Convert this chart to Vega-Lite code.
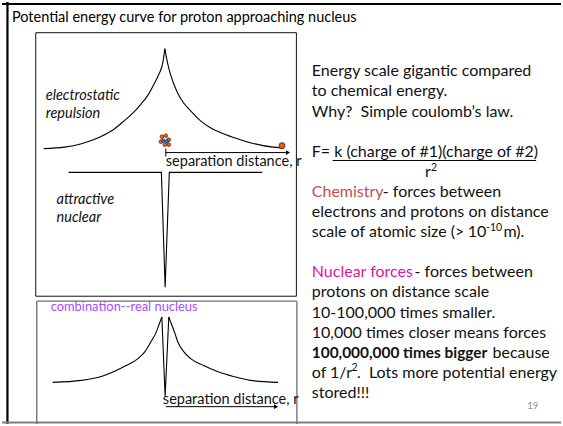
{
  "$schema": "https://vega.github.io/schema/vega-lite/v6.json",
  "width": 563,
  "height": 426,
  "padding": 0,
  "autosize": {"type": "fit", "contains": "padding"},
  "background": "white",
  "config": {"view": {"stroke": null}},
  "datasets": {
    "rules": [
      {"k": "slide", "x": 0, "y": 2, "x2": 563, "y2": 2},
      {"k": "slide", "x": 5.5, "y": 0, "x2": 5.5, "y2": 426},
      {"k": "slidegray", "x": 0, "y": 424.5, "x2": 563, "y2": 424.5},
      {"k": "box", "x": 34, "y": 31, "x2": 296.5, "y2": 31},
      {"k": "box", "x": 34, "y": 297, "x2": 296.5, "y2": 297},
      {"k": "box", "x": 34, "y": 31, "x2": 34, "y2": 297},
      {"k": "box", "x": 296.5, "y": 31, "x2": 296.5, "y2": 297},
      {"k": "boxgray", "x": 35, "y": 302, "x2": 297, "y2": 302},
      {"k": "boxgray", "x": 35, "y": 302, "x2": 35, "y2": 426},
      {"k": "boxgray", "x": 297, "y": 302, "x2": 297, "y2": 426},
      {"k": "arrow", "x": 165, "y": 152, "x2": 287, "y2": 152},
      {"k": "arrow", "x": 165, "y": 148, "x2": 165, "y2": 156},
      {"k": "arrow", "x": 165, "y": 408.5, "x2": 275, "y2": 408.5},
      {"k": "arrow", "x": 333, "y": 160, "x2": 538, "y2": 160}
    ],
    "curves": [
      {"s": "repL", "t": "smooth", "x": 42, "y": 148},
      {"s": "repL", "t": "smooth", "x": 63, "y": 146.5},
      {"s": "repL", "t": "smooth", "x": 80, "y": 143},
      {"s": "repL", "t": "smooth", "x": 97, "y": 137},
      {"s": "repL", "t": "smooth", "x": 112, "y": 129},
      {"s": "repL", "t": "smooth", "x": 123, "y": 120},
      {"s": "repL", "t": "smooth", "x": 133, "y": 111},
      {"s": "repL", "t": "smooth", "x": 140, "y": 103},
      {"s": "repL", "t": "smooth", "x": 147, "y": 94},
      {"s": "repL", "t": "smooth", "x": 153, "y": 83},
      {"s": "repL", "t": "smooth", "x": 158, "y": 73},
      {"s": "repL", "t": "smooth", "x": 162, "y": 61},
      {"s": "repL", "t": "smooth", "x": 164, "y": 47},
      {"s": "repR", "t": "smooth", "x": 164, "y": 47},
      {"s": "repR", "t": "smooth", "x": 166, "y": 58},
      {"s": "repR", "t": "smooth", "x": 168, "y": 67},
      {"s": "repR", "t": "smooth", "x": 172, "y": 80},
      {"s": "repR", "t": "smooth", "x": 177, "y": 92},
      {"s": "repR", "t": "smooth", "x": 183, "y": 102},
      {"s": "repR", "t": "smooth", "x": 190, "y": 110},
      {"s": "repR", "t": "smooth", "x": 200, "y": 120},
      {"s": "repR", "t": "smooth", "x": 210, "y": 127},
      {"s": "repR", "t": "smooth", "x": 223, "y": 133},
      {"s": "repR", "t": "smooth", "x": 237, "y": 138},
      {"s": "repR", "t": "smooth", "x": 250, "y": 142},
      {"s": "repR", "t": "smooth", "x": 263, "y": 145},
      {"s": "repR", "t": "smooth", "x": 283, "y": 147.5},
      {"s": "nuc", "t": "sharp", "x": 67, "y": 172},
      {"s": "nuc", "t": "sharp", "x": 160.5, "y": 172},
      {"s": "nuc", "t": "sharp", "x": 164.3, "y": 288},
      {"s": "nuc", "t": "sharp", "x": 168.5, "y": 172},
      {"s": "nuc", "t": "sharp", "x": 262, "y": 172},
      {"s": "combL", "t": "smooth", "x": 51, "y": 384},
      {"s": "combL", "t": "smooth", "x": 80, "y": 382},
      {"s": "combL", "t": "smooth", "x": 100, "y": 378},
      {"s": "combL", "t": "smooth", "x": 113, "y": 373},
      {"s": "combL", "t": "smooth", "x": 125, "y": 367},
      {"s": "combL", "t": "smooth", "x": 137, "y": 360},
      {"s": "combL", "t": "smooth", "x": 144, "y": 353},
      {"s": "combL", "t": "smooth", "x": 150, "y": 343},
      {"s": "combL", "t": "smooth", "x": 155, "y": 334},
      {"s": "combL", "t": "smooth", "x": 158, "y": 326},
      {"s": "combL", "t": "smooth", "x": 161, "y": 318},
      {"s": "combR", "t": "smooth", "x": 168, "y": 318},
      {"s": "combR", "t": "smooth", "x": 171, "y": 326},
      {"s": "combR", "t": "smooth", "x": 174, "y": 334},
      {"s": "combR", "t": "smooth", "x": 177, "y": 343},
      {"s": "combR", "t": "smooth", "x": 183, "y": 353},
      {"s": "combR", "t": "smooth", "x": 190, "y": 360},
      {"s": "combR", "t": "smooth", "x": 203, "y": 367},
      {"s": "combR", "t": "smooth", "x": 217, "y": 373},
      {"s": "combR", "t": "smooth", "x": 233, "y": 378},
      {"s": "combR", "t": "smooth", "x": 250, "y": 382},
      {"s": "combR", "t": "smooth", "x": 278, "y": 384},
      {"s": "combV", "t": "sharp", "x": 161, "y": 318},
      {"s": "combV", "t": "sharp", "x": 164.3, "y": 398},
      {"s": "combV", "t": "sharp", "x": 168, "y": 318}
    ],
    "heads": [
      {"x": 288, "y": 152},
      {"x": 276, "y": 408.5}
    ],
    "dots": [
      {"k": "electron", "x": 282, "y": 145},
      {"k": "proton", "x": 161, "y": 136},
      {"k": "proton", "x": 165, "y": 135},
      {"k": "proton", "x": 168, "y": 139},
      {"k": "proton", "x": 160, "y": 141},
      {"k": "proton", "x": 164, "y": 144},
      {"k": "proton", "x": 168, "y": 144},
      {"k": "neutron", "x": 162.5, "y": 140},
      {"k": "neutron", "x": 166, "y": 140.5}
    ],
    "texts": [
      {"k": "title", "x": 10, "y": 20.5, "t": "Potential energy curve for proton approaching nucleus"},
      {"k": "ital", "x": 44, "y": 99, "t": "electrostatic"},
      {"k": "ital", "x": 44, "y": 117, "t": "repulsion"},
      {"k": "ital", "x": 55, "y": 204, "t": "attractive"},
      {"k": "ital", "x": 55, "y": 222, "t": "nuclear"},
      {"k": "lab", "x": 165, "y": 166, "t": "separation distance, r"},
      {"k": "lab", "x": 162, "y": 406, "t": "separation distance, r"},
      {"k": "purple", "x": 49, "y": 312, "t": "combination--real nucleus"},
      {"k": "body", "x": 312, "y": 75, "t": "Energy scale gigantic compared"},
      {"k": "body", "x": 312, "y": 95.3, "t": "to chemical energy."},
      {"k": "body", "x": 312, "y": 115.6, "t": "Why?\u00a0 Simple coulomb’s law."},
      {"k": "body", "x": 312, "y": 156.2, "t": "F= k (charge of #1)(charge of #2)"},
      {"k": "body", "x": 426, "y": 176.5, "t": "r"},
      {"k": "sup", "x": 432, "y": 170.5, "t": "2"},
      {"k": "red", "x": 312, "y": 196.8, "t": "Chemistry"},
      {"k": "body", "x": 383.5, "y": 196.8, "t": "- forces between"},
      {"k": "body", "x": 312, "y": 217, "t": "electrons and protons on distance"},
      {"k": "body", "x": 312, "y": 237.4, "t": "scale of atomic size (>"},
      {"k": "body", "x": 469, "y": 237.4, "t": "10"},
      {"k": "sup", "x": 487.5, "y": 231, "t": "-10"},
      {"k": "body", "x": 505, "y": 237.4, "t": "m)."},
      {"k": "mag", "x": 312, "y": 278, "t": "Nuclear forces"},
      {"k": "body", "x": 415.5, "y": 278, "t": "- forces between"},
      {"k": "body", "x": 312, "y": 298.3, "t": "protons on distance scale"},
      {"k": "body", "x": 312, "y": 318.6, "t": "10-100,000 times smaller."},
      {"k": "body", "x": 312, "y": 339, "t": "10,000 times closer means forces"},
      {"k": "bold", "x": 312, "y": 359.2, "t": "100,000,000 times bigger"},
      {"k": "body", "x": 494, "y": 359.2, "t": "because"},
      {"k": "body", "x": 312, "y": 379.5, "t": "of 1/r"},
      {"k": "sup", "x": 352, "y": 373, "t": "2"},
      {"k": "body", "x": 357.5, "y": 379.5, "t": ".\u00a0 Lots more potential energy"},
      {"k": "body", "x": 312, "y": 399.8, "t": "stored!!!"},
      {"k": "page", "x": 529, "y": 411, "t": "19"}
    ]
  },
  "encoding": {
    "x": {"field": "x", "type": "quantitative", "scale": {"domain": [0, 563], "nice": false, "zero": false}, "axis": null},
    "y": {"field": "y", "type": "quantitative", "scale": {"domain": [0, 426], "nice": false, "zero": false, "reverse": true}, "axis": null}
  },
  "layer": [
    {"data": {"name": "rules"}, "transform": [{"filter": "datum.k === 'slide'"}], "mark": {"type": "rule", "color": "#000000", "strokeWidth": 2.2}, "encoding": {"x2": {"field": "x2"}, "y2": {"field": "y2"}}},
    {"data": {"name": "rules"}, "transform": [{"filter": "datum.k === 'slidegray'"}], "mark": {"type": "rule", "color": "#7f7f7f", "strokeWidth": 2}, "encoding": {"x2": {"field": "x2"}, "y2": {"field": "y2"}}},
    {"data": {"name": "rules"}, "transform": [{"filter": "datum.k === 'box'"}], "mark": {"type": "rule", "color": "#111111", "strokeWidth": 1}, "encoding": {"x2": {"field": "x2"}, "y2": {"field": "y2"}}},
    {"data": {"name": "rules"}, "transform": [{"filter": "datum.k === 'boxgray'"}], "mark": {"type": "rule", "color": "#6e6e6e", "strokeWidth": 1.3}, "encoding": {"x2": {"field": "x2"}, "y2": {"field": "y2"}}},
    {"data": {"name": "rules"}, "transform": [{"filter": "datum.k === 'arrow'"}], "mark": {"type": "rule", "color": "#000000", "strokeWidth": 1}, "encoding": {"x2": {"field": "x2"}, "y2": {"field": "y2"}}},
    {"data": {"name": "curves"}, "transform": [{"filter": "datum.t === 'smooth'"}], "mark": {"type": "line", "interpolate": "monotone", "color": "#000000", "strokeWidth": 1.1}, "encoding": {"detail": {"field": "s"}}},
    {"data": {"name": "curves"}, "transform": [{"filter": "datum.t === 'sharp'"}], "mark": {"type": "line", "interpolate": "linear", "color": "#000000", "strokeWidth": 1.1}, "encoding": {"detail": {"field": "s"}}},
    {"data": {"name": "heads"}, "mark": {"type": "point", "shape": "triangle-right", "filled": true, "color": "#000000", "size": 22, "opacity": 1}, "encoding": {}},
    {"data": {"name": "dots"}, "transform": [{"filter": "datum.k === 'electron'"}], "mark": {"type": "point", "shape": "circle", "filled": true, "fill": "#f05a1e", "stroke": "#4a1a00", "strokeWidth": 0.8, "size": 36, "opacity": 1}, "encoding": {}},
    {"data": {"name": "dots"}, "transform": [{"filter": "datum.k === 'proton'"}], "mark": {"type": "point", "shape": "circle", "filled": true, "fill": "#f05a1e", "stroke": "#3a1500", "strokeWidth": 0.6, "size": 14, "opacity": 1}, "encoding": {}},
    {"data": {"name": "dots"}, "transform": [{"filter": "datum.k === 'neutron'"}], "mark": {"type": "point", "shape": "circle", "filled": true, "fill": "#2a6fd6", "stroke": "#0a1f44", "strokeWidth": 0.6, "size": 12, "opacity": 1}, "encoding": {}},
    {"data": {"name": "texts"}, "transform": [{"filter": "datum.k === 'title'"}], "mark": {"type": "text", "align": "left", "baseline": "alphabetic", "font": "Lato", "fontSize": 14.5, "color": "#000000"}, "encoding": {"text": {"field": "t"}}},
    {"data": {"name": "texts"}, "transform": [{"filter": "datum.k === 'ital'"}], "mark": {"type": "text", "align": "left", "baseline": "alphabetic", "font": "Lato", "fontStyle": "italic", "fontSize": 14.5, "color": "#111111"}, "encoding": {"text": {"field": "t"}}},
    {"data": {"name": "texts"}, "transform": [{"filter": "datum.k === 'lab'"}], "mark": {"type": "text", "align": "left", "baseline": "alphabetic", "font": "Lato", "fontSize": 14.5, "color": "#111111"}, "encoding": {"text": {"field": "t"}}},
    {"data": {"name": "texts"}, "transform": [{"filter": "datum.k === 'purple'"}], "mark": {"type": "text", "align": "left", "baseline": "alphabetic", "font": "Lato", "fontSize": 12.9, "color": "#a64dff"}, "encoding": {"text": {"field": "t"}}},
    {"data": {"name": "texts"}, "transform": [{"filter": "datum.k === 'body'"}], "mark": {"type": "text", "align": "left", "baseline": "alphabetic", "font": "Lato", "fontSize": 16, "color": "#111111"}, "encoding": {"text": {"field": "t"}}},
    {"data": {"name": "texts"}, "transform": [{"filter": "datum.k === 'red'"}], "mark": {"type": "text", "align": "left", "baseline": "alphabetic", "font": "Lato", "fontSize": 16, "color": "#c0504d"}, "encoding": {"text": {"field": "t"}}},
    {"data": {"name": "texts"}, "transform": [{"filter": "datum.k === 'mag'"}], "mark": {"type": "text", "align": "left", "baseline": "alphabetic", "font": "Lato", "fontSize": 16, "color": "#e0179e"}, "encoding": {"text": {"field": "t"}}},
    {"data": {"name": "texts"}, "transform": [{"filter": "datum.k === 'bold'"}], "mark": {"type": "text", "align": "left", "baseline": "alphabetic", "font": "Lato", "fontWeight": "bold", "fontSize": 15.4, "color": "#111111"}, "encoding": {"text": {"field": "t"}}},
    {"data": {"name": "texts"}, "transform": [{"filter": "datum.k === 'sup'"}], "mark": {"type": "text", "align": "left", "baseline": "alphabetic", "font": "Lato", "fontSize": 10.5, "color": "#111111"}, "encoding": {"text": {"field": "t"}}},
    {"data": {"name": "texts"}, "transform": [{"filter": "datum.k === 'page'"}], "mark": {"type": "text", "align": "left", "baseline": "alphabetic", "font": "Lato", "fontSize": 9.5, "color": "#8c8c8c"}, "encoding": {"text": {"field": "t"}}}
  ]
}
